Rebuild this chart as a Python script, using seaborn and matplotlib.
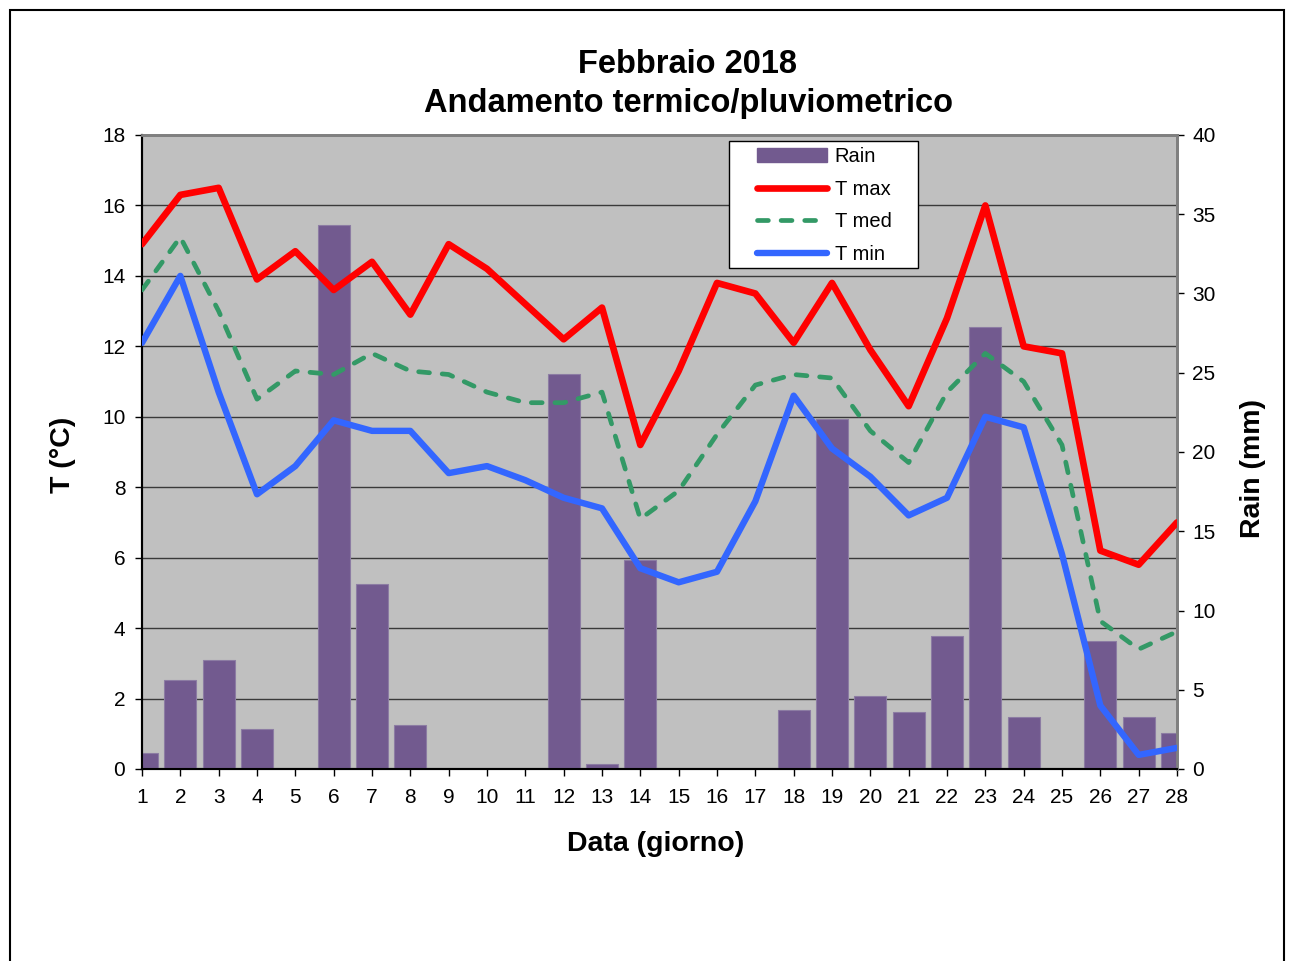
import numpy as np
import pandas as pd
import matplotlib.pyplot as plt
import matplotlib.patches as mpatches
from matplotlib.lines import Line2D
import seaborn as sns

# Data (February 2018)
days = list(range(1, 29))
rain = [1.0, 5.6, 6.9, 2.5, 0.0, 34.3, 11.7, 2.8, 0.0, 0.0,
        0.0, 24.9, 0.3, 13.2, 0.0, 0.0, 0.0, 3.7, 22.1, 4.6,
        3.6, 8.4, 27.9, 3.3, 0.0, 8.1, 3.3, 2.3]
t_max = [14.9, 16.3, 16.5, 13.9, 14.7, 13.6, 14.4, 12.9, 14.9, 14.2,
         13.2, 12.2, 13.1, 9.2, 11.3, 13.8, 13.5, 12.1, 13.8, 11.9,
         10.3, 12.8, 16.0, 12.0, 11.8, 6.2, 5.8, 7.0]
t_med = [13.6, 15.1, 13.0, 10.5, 11.3, 11.2, 11.8, 11.3, 11.2, 10.7,
         10.4, 10.4, 10.7, 7.1, 7.9, 9.5, 10.9, 11.2, 11.1, 9.6,
         8.7, 10.7, 11.8, 11.0, 9.2, 4.2, 3.4, 3.9]
t_min = [12.1, 14.0, 10.7, 7.8, 8.6, 9.9, 9.6, 9.6, 8.4, 8.6,
         8.2, 7.7, 7.4, 5.7, 5.3, 5.6, 7.6, 10.6, 9.1, 8.3,
         7.2, 7.7, 10.0, 9.7, 6.1, 1.8, 0.4, 0.6]

df = pd.DataFrame({'Day': days, 'Rain': rain, 'Tmax': t_max,
                   'Tmed': t_med, 'Tmin': t_min})

sns.set_theme(style='white')
plt.rcParams['font.family'] = ['Liberation Sans', 'DejaVu Sans']
plt.rcParams['text.color'] = 'black'
plt.rcParams['axes.labelcolor'] = 'black'

bar_color = '#725A8F'
red = '#FF0000'
green = '#339966'
blue = '#3366FF'

W, H = 1291, 961
fig = plt.figure(figsize=(W / 100, H / 100), dpi=100)
fig.patch.set_facecolor('white')
ax = fig.add_axes([142 / W, 1 - 769 / H, 1035 / W, 634 / H])
ax.set_facecolor('#C0C0C0')
ax2 = ax.twinx()   # rain bars
ax3 = ax.twinx()   # temperature lines on top of bars

# Rain bars
sns.barplot(data=df, x='Day', y='Rain', native_scale=True, width=0.83,
            color=bar_color, saturation=1, errorbar=None,
            edgecolor='#8C7CA3', linewidth=0.8, ax=ax2)

# Temperature lines
dash = (0, (2.3, 2.7))
sns.lineplot(data=df, x='Day', y='Tmax', ax=ax3, color=red, linewidth=4.8,
             solid_joinstyle='round', solid_capstyle='round')
sns.lineplot(data=df, x='Day', y='Tmed', ax=ax3, color=green, linewidth=3.4,
             linestyle=dash, dash_capstyle='round', dash_joinstyle='round')
sns.lineplot(data=df, x='Day', y='Tmin', ax=ax3, color=blue, linewidth=4.6,
             solid_joinstyle='round', solid_capstyle='round')

# Axes limits / ticks
ax.set_xlim(1, 28)
ax.set_ylim(0, 18)
ax.set_yticks(range(0, 19, 2))
ax.set_xticks(days)
ax.set_xticklabels([str(d) for d in days])
ax2.set_ylim(0, 40)
ax2.set_yticks(range(0, 41, 5))
ax3.set_ylim(0, 18)
ax3.axis('off')

ax.yaxis.grid(True, color='#3A3A3A', linewidth=1.0)
ax.xaxis.grid(False)
ax.set_axisbelow(True)

ax.tick_params(axis='y', left=True, direction='out', length=5, width=1,
               pad=7, labelsize=15, colors='black')
ax.tick_params(axis='x', bottom=True, direction='out', length=5, width=1,
               pad=9, labelsize=15, colors='black')
ax2.tick_params(axis='y', right=True, left=False, direction='out', length=5,
                width=1, pad=6, labelsize=15, colors='black')

for a in (ax, ax2):
    a.spines['left'].set_color('black')
    a.spines['left'].set_linewidth(1.5)
    a.spines['bottom'].set_color('black')
    a.spines['bottom'].set_linewidth(1.5)
    a.spines['top'].set_color('#808080')
    a.spines['top'].set_linewidth(2)
    a.spines['right'].set_color('#808080')
    a.spines['right'].set_linewidth(2)

# Axis labels
ax.set_xlabel('Data (giorno)', fontsize=20.5, fontweight='bold')
ax.xaxis.set_label_coords((656 - 142) / 1035, (769 - 844) / 634)
ax.xaxis.label.set_va('center')
ax.set_ylabel('T (°C)', fontsize=20.5, fontweight='bold')
ax.yaxis.set_label_coords((63 - 142) / 1035, (769 - 455) / 634)
ax.yaxis.label.set_va('center')
ax2.set_ylabel('Rain (mm)', fontsize=20.5, fontweight='bold')
ax2.yaxis.set_label_coords((1253 - 142) / 1035, (769 - 468) / 634)
ax2.yaxis.label.set_va('center')

# Title
fig.text(688 / W, 1 - 84 / H, 'Febbraio 2018\nAndamento termico/pluviometrico',
         ha='center', va='center', fontsize=23.5, fontweight='bold',
         linespacing=1.32)

# Legend with a white box
box = mpatches.Rectangle(((729 - 142) / 1035, (769 - 268) / 634),
                         (918 - 729) / 1035, (268 - 141) / 634,
                         transform=ax3.transAxes, facecolor='white',
                         edgecolor='black', linewidth=1, zorder=5,
                         clip_on=False)
ax3.add_patch(box)
handles = [mpatches.Patch(facecolor=bar_color, edgecolor=bar_color),
           Line2D([], [], color=red, linewidth=4.8, solid_capstyle='round'),
           Line2D([], [], color=green, linewidth=3.4, linestyle=dash,
                  dash_capstyle='round'),
           Line2D([], [], color=blue, linewidth=4.6, solid_capstyle='round')]
labels = ['Rain', 'T max', 'T med', 'T min']
leg = ax3.legend(handles, labels, loc='upper left',
                 bbox_to_anchor=((757 - 142) / 1035, (769 - 147) / 634),
                 frameon=False, fontsize=14.5, handlelength=3.5,
                 handletextpad=0.35, labelspacing=0.68, borderpad=0,
                 borderaxespad=0)
leg.set_zorder(6)

# Outer frame of the chart
fig.add_artist(mpatches.Rectangle((10 / W, -0.05), (1284 - 10) / W,
                                  1 - 10 / H + 0.05,
                                  transform=fig.transFigure, fill=False,
                                  edgecolor='black', linewidth=1.5))

plt.savefig('out.png', dpi=100)
